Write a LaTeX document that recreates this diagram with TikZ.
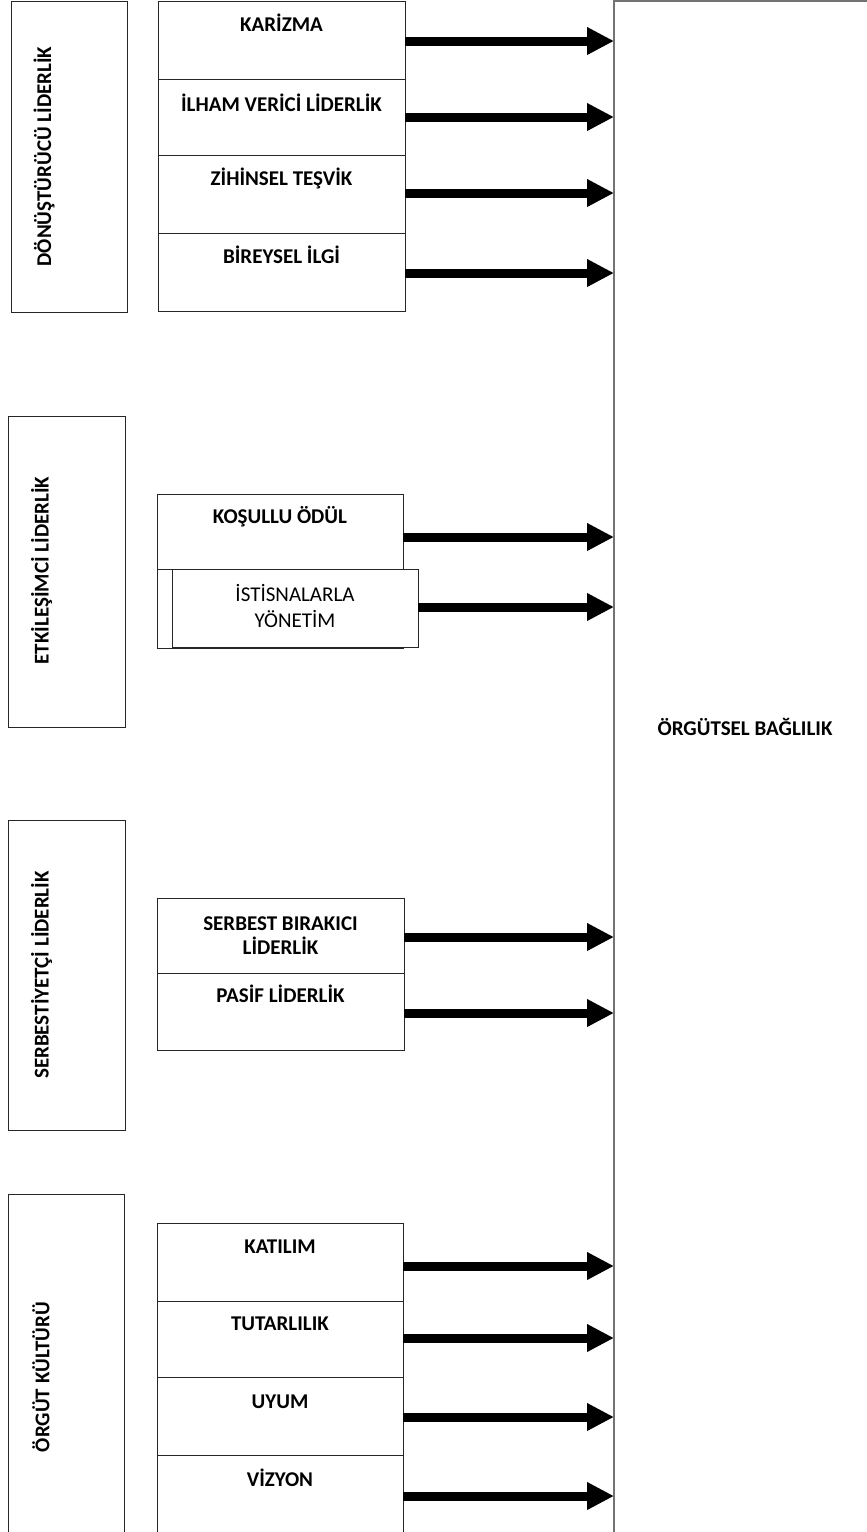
\documentclass[tikz,border=0pt]{standalone}
\usepackage{fontspec}
\setmainfont{Carlito}
\usetikzlibrary{arrows.meta,calc}
\tikzset{
  box/.style={draw=black!85, line width=0.9pt, fill=white, inner sep=0pt, outer sep=0pt, anchor=north west},
  bigbox/.style={draw=black!55, line width=1.4pt, fill=white, inner sep=0pt, outer sep=0pt, anchor=north west},
  ttl/.style={font=\bfseries\fontsize{21}{24}\selectfont, rotate=90, inner sep=0pt},
  lbl/.style={font=\bfseries\fontsize{21}{24}\selectfont, inner sep=0pt, anchor=base, align=center},
  plain/.style={font=\fontsize{21}{26}\selectfont, inner sep=0pt, anchor=base, align=center},
  conn/.style={line width=9pt, -{Triangle[length=27pt,width=26pt]}}
}
\begin{document}
\begin{tikzpicture}[x=1pt,y=-1pt]
\useasboundingbox (0,0) rectangle (867,1532);
\fill[white] (0,0) rectangle (867,1532);
% right box
\node[bigbox, minimum width=262pt, minimum height=1560pt] (rb) at (614,1) {};
\node[lbl] (rbt) at (745,735) {ÖRGÜTSEL BAĞLILIK};
% left boxes
\node[box, minimum width=116pt, minimum height=311pt] (L1) at (11,1) {};
\node[box, minimum width=117pt, minimum height=311pt] (L2) at (8,416) {};
\node[box, minimum width=117pt, minimum height=310pt] (L3) at (8,820) {};
\node[box, minimum width=116pt, minimum height=360pt] (L4) at (8,1194) {};
\node[ttl] (L1t) at ($(L1.center)+(-25,0)$) {DÖNÜŞTÜRÜCÜ LİDERLİK};
\node[ttl] (L2t) at ($(L2.center)+(-25,-1)$) {ETKİLEŞİMCİ LİDERLİK};
\node[ttl] (L3t) at ($(L3.center)+(-25,0)$) {SERBESTİYETÇİ LİDERLİK};
\node[ttl] (L4t) at ($(L4.west |- 0,1377)+(33,0)$) {ÖRGÜT KÜLTÜRÜ};
% group 1
\node[box, minimum width=247pt, minimum height=78pt] (a1) at (158,1) {};
\node[box, minimum width=247pt, minimum height=76pt] (a2) at (158,79) {};
\node[box, minimum width=247pt, minimum height=78pt] (a3) at (158,155) {};
\node[box, minimum width=247pt, minimum height=78pt] (a4) at (158,233) {};
\node[lbl] (a1t) at (281.5,31) {KARİZMA};
\node[lbl] (a2t) at (281.5,111) {İLHAM VERİCİ LİDERLİK};
\node[lbl] (a3t) at (281.5,185) {ZİHİNSEL TEŞVİK};
\node[lbl] (a4t) at (281.5,263) {BİREYSEL İLGİ};
% group 2
\node[box, minimum width=246pt, minimum height=75pt] (b1) at (157,494) {};
\node[box, minimum width=246pt, minimum height=79pt] (b0) at (157,569) {};
\node[box, minimum width=246pt, minimum height=78pt] (b2) at (172,569) {};
\node[lbl] (b1t) at (280,523) {KOŞULLU ÖDÜL};
\node[plain] (b2t) at (295,627) {İSTİSNALARLA\\YÖNETİM};
% group 3
\node[box, minimum width=247pt, minimum height=75pt] (c1) at (157,898) {};
\node[box, minimum width=247pt, minimum height=77pt] (c2) at (157,973) {};
\node[lbl] (c1t) at (280.5,954) {SERBEST BIRAKICI\\LİDERLİK};
\node[lbl] (c2t) at (280.5,1002) {PASİF LİDERLİK};
% group 4
\node[box, minimum width=246pt, minimum height=78pt] (d1) at (157,1223) {};
\node[box, minimum width=246pt, minimum height=76pt] (d2) at (157,1301) {};
\node[box, minimum width=246pt, minimum height=78pt] (d3) at (157,1377) {};
\node[box, minimum width=246pt, minimum height=80pt] (d4) at (157,1455) {};
\node[lbl] (d1t) at (280,1253) {KATILIM};
\node[lbl] (d2t) at (280,1330) {TUTARLILIK};
\node[lbl] (d3t) at (280,1408) {UYUM};
\node[lbl] (d4t) at (280,1486) {VİZYON};
% arrows
\foreach \n/\y in {a1/41,a2/117,a3/193,a4/273,b1/537,b2/607,c1/937,c2/1013,d1/1266,d2/1338,d3/1417,d4/1496}{
  \coordinate (\n s) at (\n.east |- 0,\y);
  \coordinate (\n e) at (rb.west |- 0,\y);
  \draw[conn] (\n s) -- (\n e);
}
\end{tikzpicture}
\end{document}
